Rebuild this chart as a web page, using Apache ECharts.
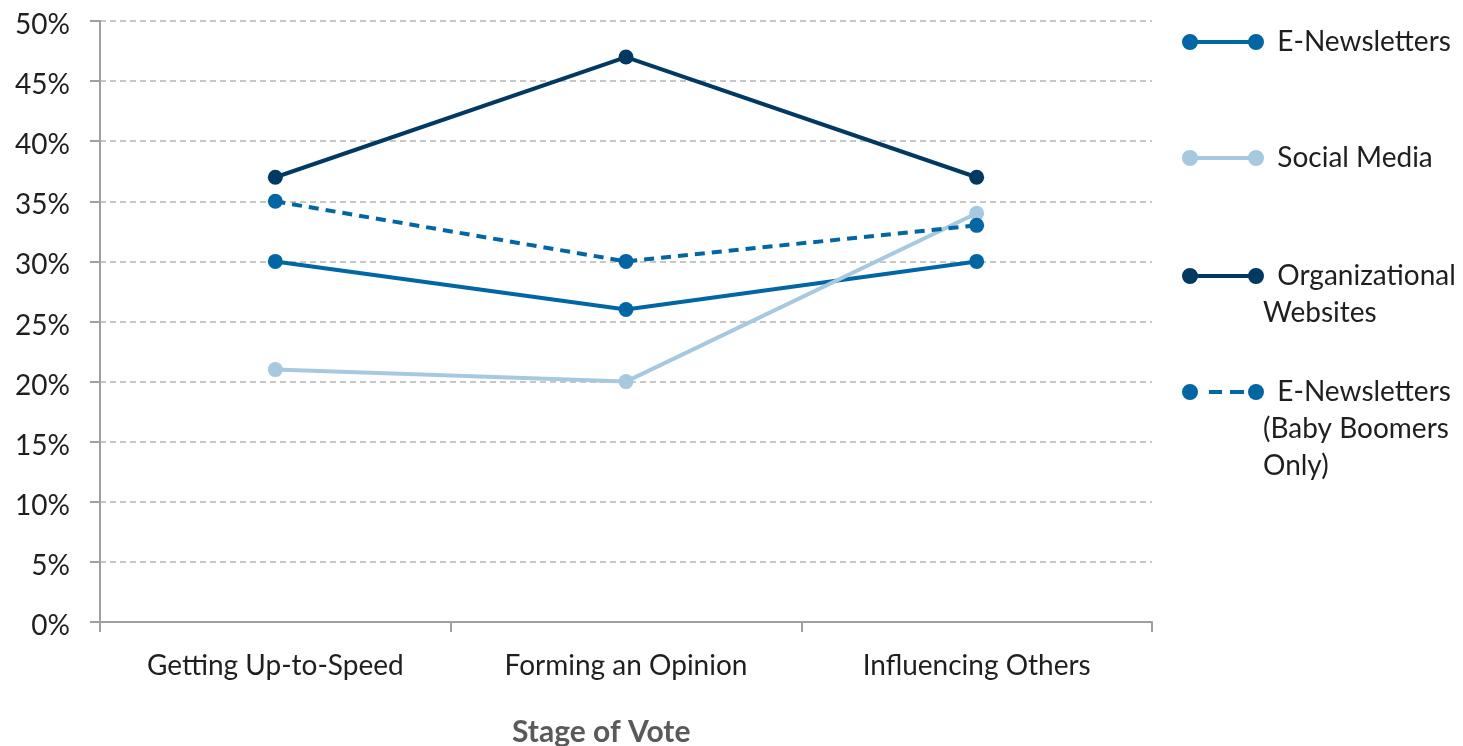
<!DOCTYPE html>
<html>
<head>
<meta charset="utf-8">
<title>Stage of Vote</title>
<script src="https://cdn.jsdelivr.net/npm/echarts@6/dist/echarts.min.js"></script>
<style>
  html, body { margin: 0; padding: 0; background: #ffffff; }
  #chart { width: 1463px; height: 746px; }
</style>
</head>
<body>
<div id="chart"></div>
<script>
// Stages of the vote (x categories)
const stages = ['Getting Up-to-Speed', 'Forming an Opinion', 'Influencing Others'];

// Share of respondents using each channel, in percent
const eNewsletters = [30, 26, 30];
const socialMedia = [21, 20, 34];
const orgWebsites = [37, 47, 37];
const eNewslettersBoomers = [35, 30, 33];

// Series names and their legend labels (wrapped as in the key)
const seriesNames = ['E-Newsletters', 'Social Media', 'Organizational Websites', 'E-Newsletters (Baby Boomers Only)'];
const legendLines = [
  ['E-Newsletters'],
  ['Social Media'],
  ['Organizational', 'Websites'],
  ['E-Newsletters', '(Baby Boomers', 'Only)']
];

const FONT = 'Lato, "Open Sans", sans-serif';
const C_ENEWS = '#0066a4';
const C_SOCIAL = '#a6c9e0';
const C_ORG = '#003a63';
const seriesColors = [C_ENEWS, C_SOCIAL, C_ORG, C_ENEWS];

// Legend icons: a segment with a dot on each end (solid or dashed)
const circle = (cx) => `M${cx - 8},8 A8,8 0 1,1 ${cx + 8},8 A8,8 0 1,1 ${cx - 8},8 Z`;
const solidIcon = 'path://' + circle(8) + ' ' + circle(74) + ' M8,6 L74,6 L74,10 L8,10 Z';
const dashedIcon = 'path://' + circle(8) + ' ' + circle(74) +
  ' M8,6 L14,6 L14,10 L8,10 Z M27,6 L40,6 L40,10 L27,10 Z M48,6 L62,6 L62,10 L48,10 Z M68,6 L74,6 L74,10 L68,10 Z';

const LINE_H = 37;
// Vertical centre of each key's symbol (first text line)
const legendCentres = [42, 158, 276, 392];

const legends = seriesNames.map((name, i) => {
  const lines = legendLines[i];
  // pad with blank lines above so the symbol sits beside the first line
  const padded = Array(lines.length - 1).fill('').concat(lines.map((t, k) => (k === 0 ? '  ' + t : t)));
  const top = legendCentres[i] - LINE_H * padded.length / 2;
  return {
    orient: 'vertical',
    left: 1182,
    top: top,
    padding: 0,
    data: [{
      name: name,
      icon: i === 3 ? dashedIcon : solidIcon,
      itemStyle: { color: seriesColors[i], borderWidth: 0, opacity: 1 }
    }],
    itemWidth: 82,
    itemHeight: 16,
    itemGap: 0,
    selectedMode: false,
    formatter: () => padded.join('\n'),
    textStyle: {
      fontFamily: FONT,
      fontSize: 28,
      color: '#1f1f1f',
      lineHeight: LINE_H,
      padding: [0, 0, 0, -6]
    }
  };
});

function lineSeries(name, data, color, dashed) {
  return {
    name: name,
    type: 'line',
    data: data,
    symbol: 'circle',
    symbolSize: 15,
    itemStyle: { color: color },
    lineStyle: { color: color, width: 4, type: dashed ? [10, 7] : 'solid' },
    emphasis: { disabled: true },
    animation: false
  };
}

const chart = echarts.init(document.getElementById('chart'));
chart.setOption({
  backgroundColor: '#ffffff',
  animation: false,
  grid: { left: 100, right: 311, top: 21, bottom: 124 },
  legend: legends,
  xAxis: {
    type: 'category',
    data: stages,
    boundaryGap: true,
    axisLine: { lineStyle: { color: '#a0a0a0', width: 2 } },
    axisTick: { show: true, length: 10, lineStyle: { color: '#a0a0a0', width: 2 } },
    axisLabel: { fontFamily: FONT, fontSize: 28, color: '#1f1f1f', margin: 30 },
    splitLine: { show: false }
  },
  yAxis: {
    type: 'value',
    min: 0,
    max: 50,
    interval: 5,
    axisLine: { show: true, lineStyle: { color: '#a0a0a0', width: 2 } },
    axisTick: { show: true, length: 10, lineStyle: { color: '#a0a0a0', width: 2 } },
    axisLabel: {
      formatter: '{v|{value}%}',
      margin: 30,
      rich: { v: { fontFamily: FONT, fontSize: 28, color: '#1f1f1f', padding: [8, 0, 0, 0] } }
    },
    splitLine: { show: true, lineStyle: { color: '#b5b5b5', width: 1.5, type: [6, 4] } }
  },
  graphic: [{
    type: 'text',
    left: 512,
    top: 717,
    style: { text: 'Stage of Vote', fontFamily: FONT, fontSize: 30, fontWeight: 'bold', fill: '#5a5a5a' }
  }],
  series: [
    lineSeries(seriesNames[0], eNewsletters, C_ENEWS, false),
    lineSeries(seriesNames[1], socialMedia, C_SOCIAL, false),
    lineSeries(seriesNames[2], orgWebsites, C_ORG, false),
    lineSeries(seriesNames[3], eNewslettersBoomers, C_ENEWS, true)
  ]
});
</script>
</body>
</html>
